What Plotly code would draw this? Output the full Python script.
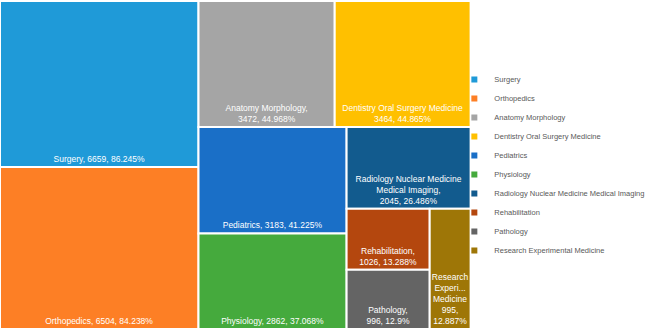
import plotly.graph_objects as go

categories = ["Surgery", "Orthopedics", "Anatomy Morphology", "Dentistry Oral Surgery Medicine",
              "Pediatrics", "Physiology", "Radiology Nuclear Medicine Medical Imaging",
              "Rehabilitation", "Pathology", "Research Experimental Medicine"]
values = [6659, 6504, 3472, 3464, 3183, 2862, 2045, 1026, 996, 995]
percents = ["86.245%", "84.238%", "44.968%", "44.865%", "41.225%", "37.068%",
            "26.486%", "13.288%", "12.9%", "12.887%"]
display_names = ["Surgery,", "Orthopedics,", "Anatomy Morphology,<br>", "Dentistry Oral Surgery Medicine<br>",
                 "Pediatrics,", "Physiology,", "Radiology Nuclear Medicine<br>Medical Imaging,<br>",
                 "Rehabilitation,<br>", "Pathology,<br>", "Research<br>Experi...<br>Medicine<br>"]
colors = ["#1f9ad8", "#fd7f25", "#a5a5a5", "#ffc000", "#1a6fc7", "#45aa3d",
          "#125b8e", "#b4470e", "#646464", "#9e7607"]

texts = []
for n, v, p in zip(display_names, values, percents):
    sep = "" if n.endswith("<br>") else " "
    if n.startswith("Research"):
        texts.append(f"{n}{v},<br>{p}")
    else:
        texts.append(f"{n}{sep}{v}, {p}")

FONT = "Liberation Sans, Arial, sans-serif"

fig = go.Figure()
fig.add_trace(go.Treemap(
    labels=categories,
    parents=[""] * len(categories),
    values=values,
    text=texts,
    texttemplate="%{text}",
    textposition="bottom center",
    textfont=dict(family=FONT, size=8.5, color="white"),
    marker=dict(colors=colors, line=dict(color="white", width=2),
                pad=dict(t=0, l=0, r=0, b=0)),
    tiling=dict(packing="squarify", pad=0),
    pathbar=dict(visible=False),
    sort=True,
    hoverinfo="none",
    domain=dict(x=[0, 0.724], y=[0, 1]),
))

for c, col in zip(categories, colors):
    fig.add_trace(go.Scatter(
        x=[None], y=[None], mode="markers", name=c,
        marker=dict(symbol="square", size=6, color=col),
        showlegend=True, hoverinfo="skip",
    ))

fig.update_layout(
    width=650, height=330,
    margin=dict(l=0, r=0, t=1, b=1, autoexpand=False),
    paper_bgcolor="white", plot_bgcolor="white",
    hovermode=False,
    uniformtext=dict(minsize=8.5, mode="show"),
    xaxis=dict(visible=False, domain=[0.73, 0.74]),
    yaxis=dict(visible=False),
    legend=dict(
        x=0.699, y=0.5, xanchor="left", yanchor="middle",
        font=dict(family=FONT, size=7.5, color="#595959"),
        tracegroupgap=0,
        bgcolor="rgba(0,0,0,0)",
    ),
)

fig.write_html("out.html", config={"displayModeBar": False},
               post_script="document.body.style.margin='0';")
